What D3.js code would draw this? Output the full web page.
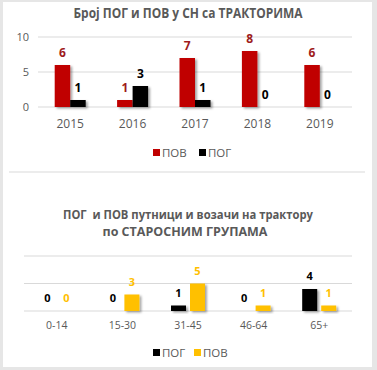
<!DOCTYPE html>
<html><head><meta charset="utf-8">
<script src="https://cdn.jsdelivr.net/npm/d3@7"></script>
<style>body{margin:0;background:#fff}svg{display:block}text{font-family:"Open Sans",sans-serif;white-space:pre}</style>
</head><body>
<script>
// Chart 1 data
const years = ["2015","2016","2017","2018","2019"];
const povYears = [6,1,7,8,6];
const pogYears = [1,3,1,0,0];
const yTicks1 = [0,5,10];
// Chart 2 data
const ageGroups = ["0-14","15-30","31-45","46-64","65+"];
const pogAge = [0,0,1,0,4];
const povAge = [0,3,5,1,1];
const gridTicks2 = [0,5,10];

const W=377,H=370;
const RED="#C00000", BLACK="#000000", GOLD="#FFC000", GRAY="#595959", GRID="#d9d9d9", REDLBL="#9E1B1B";
const svg=d3.select("body").append("svg").attr("width",W).attr("height",H);
const defs=svg.append("defs");
const f=defs.append("filter").attr("id","sh").attr("x","-30%").attr("y","-30%").attr("width","180%").attr("height","180%");
f.append("feDropShadow").attr("dx",2).attr("dy",1.5).attr("stdDeviation",1.3).attr("flood-color","#000").attr("flood-opacity",0.35);

// frame
svg.append("rect").attr("width",W).attr("height",H).attr("fill","#e6e6e6");
svg.append("rect").attr("x",3).attr("y",2).attr("width",369).attr("height",365).attr("fill","#fff");

// ===== Chart 1 =====
svg.append("text").attr("x",188).attr("y",18).attr("text-anchor","middle").attr("font-size",13.5).attr("font-weight","bold").attr("fill",GRAY).attr("textLength",229).attr("lengthAdjust","spacingAndGlyphs").text("Број ПОГ и ПОВ у СН са ТРАКТОРИМА");
const x1=d3.scaleBand().domain(years).range([39,351]);
const y1=d3.scaleLinear().domain([0,10]).range([107,37]);
const g1=svg.append("g");
g1.selectAll("line.grid").data(yTicks1).join("line").attr("x1",38).attr("x2",352).attr("y1",d=>y1(d)).attr("y2",d=>y1(d)).attr("stroke",GRID).attr("stroke-width",1);
g1.selectAll("text.yt").data(yTicks1).join("text").attr("x",29).attr("y",d=>y1(d)+4).attr("text-anchor","end").attr("font-size",11).attr("fill",GRAY).text(d=>d);
const bw1=15.5;
const c1=i=>x1(years[i])+x1.bandwidth()/2;
g1.selectAll("rect.pov").data(povYears).join("rect").attr("x",(d,i)=>c1(i)-bw1).attr("width",bw1).attr("y",d=>y1(d)).attr("height",d=>y1(0)-y1(d)).attr("fill",RED).attr("filter","url(#sh)");
g1.selectAll("rect.pog").data(pogYears).join("rect").attr("x",(d,i)=>c1(i)).attr("width",bw1).attr("y",d=>y1(d)).attr("height",d=>y1(0)-y1(d)).attr("fill",BLACK).attr("filter","url(#sh)");
g1.selectAll("text.lp").data(povYears).join("text").attr("x",(d,i)=>c1(i)-bw1/2).attr("y",d=>y1(d)-8).attr("text-anchor","middle").attr("font-size",12).attr("font-weight","bold").attr("fill",REDLBL).text(d=>d);
g1.selectAll("text.lg").data(pogYears).join("text").attr("x",(d,i)=>c1(i)+bw1/2).attr("y",d=>y1(d)-8).attr("text-anchor","middle").attr("font-size",12).attr("font-weight","bold").attr("fill",BLACK).text(d=>d);
g1.selectAll("text.xl").data(years).join("text").attr("x",d=>x1(d)+x1.bandwidth()/2).attr("y",128).attr("text-anchor","middle").attr("font-size",12).attr("fill",GRAY).text(d=>d);
// legend 1
const leg1=[{n:"ПОВ",c:RED},{n:"ПОГ",c:BLACK}];
leg1.forEach((d,i)=>{const lx=153+i*46;
  svg.append("rect").attr("x",lx).attr("y",149).attr("width",7).attr("height",7).attr("fill",d.c);
  svg.append("text").attr("x",lx+9).attr("y",157).attr("font-size",11.5).attr("fill",GRAY).text(d.n);});
// separator
svg.append("line").attr("x1",9).attr("x2",365).attr("y1",172).attr("y2",172).attr("stroke","#d9d9d9").attr("stroke-width",1.2);

// ===== Chart 2 =====
svg.append("text").attr("x",188).attr("y",219).attr("text-anchor","middle").attr("font-size",12.5).attr("font-weight","bold").attr("fill",GRAY).attr("textLength",250).attr("lengthAdjust","spacingAndGlyphs").text("ПОГ  и ПОВ путници и возачи на трактору");
svg.append("text").attr("x",185).attr("y",236).attr("text-anchor","middle").attr("font-size",12.5).attr("font-weight","bold").attr("fill",GRAY).attr("textLength",165).attr("lengthAdjust","spacingAndGlyphs").text("по СТАРОСНИМ ГРУПАМА");
const x2=d3.scaleBand().domain(ageGroups).range([24,352]);
const y2=d3.scaleLinear().domain([0,10]).range([311,256]);
const g2=svg.append("g");
g2.selectAll("line.grid").data(gridTicks2).join("line").attr("x1",24).attr("x2",352).attr("y1",d=>y2(d)).attr("y2",d=>y2(d)).attr("stroke",GRID).attr("stroke-width",1);
const bw2=15, gap2=2;
const c2=i=>x2(ageGroups[i])+x2.bandwidth()/2;
g2.selectAll("rect.pog").data(pogAge).join("rect").attr("x",(d,i)=>c2(i)-gap2-bw2).attr("width",bw2).attr("y",d=>y2(d)).attr("height",d=>y2(0)-y2(d)).attr("fill",BLACK).attr("filter","url(#sh)");
g2.selectAll("rect.pov").data(povAge).join("rect").attr("x",(d,i)=>c2(i)+gap2).attr("width",bw2).attr("y",d=>y2(d)).attr("height",d=>y2(0)-y2(d)).attr("fill",GOLD).attr("filter","url(#sh)");
g2.selectAll("text.lg").data(pogAge).join("text").attr("x",(d,i)=>c2(i)-gap2-bw2/2).attr("y",d=>y2(d)-9).attr("text-anchor","middle").attr("font-size",11).attr("font-weight","bold").attr("fill",BLACK).text(d=>d);
g2.selectAll("text.lv").data(povAge).join("text").attr("x",(d,i)=>c2(i)+gap2+bw2/2).attr("y",d=>y2(d)-9).attr("text-anchor","middle").attr("font-size",11).attr("font-weight","bold").attr("fill",GOLD).text(d=>d);
g2.selectAll("text.xl").data(ageGroups).join("text").attr("x",d=>x2(d)+x2.bandwidth()/2).attr("y",329).attr("text-anchor","middle").attr("font-size",10.5).attr("fill",GRAY).text(d=>d);
const leg2=[{n:"ПОГ",c:BLACK},{n:"ПОВ",c:GOLD}];
leg2.forEach((d,i)=>{const lx=153+i*41;
  svg.append("rect").attr("x",lx).attr("y",349).attr("width",7).attr("height",7).attr("fill",d.c);
  svg.append("text").attr("x",lx+9).attr("y",357).attr("font-size",11.5).attr("fill",GRAY).text(d.n);});
</script>
</body></html>
